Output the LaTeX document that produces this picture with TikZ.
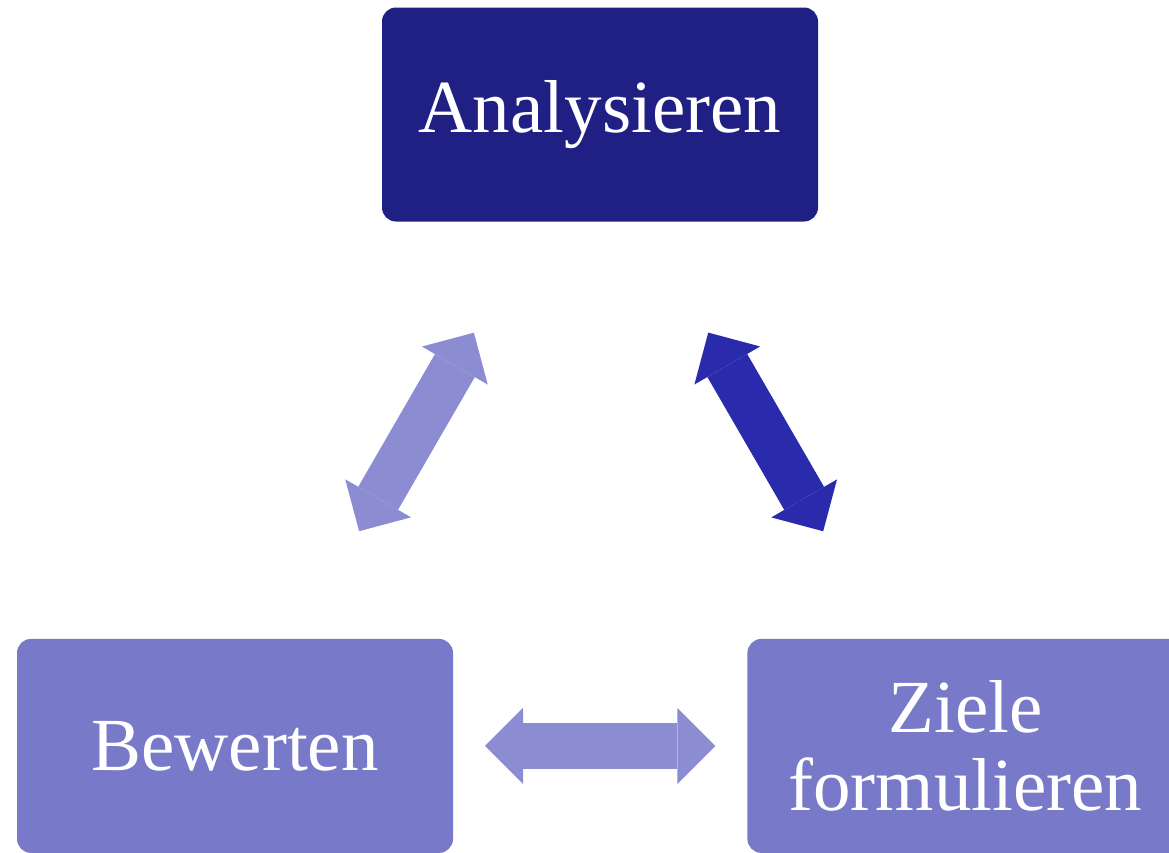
\documentclass[tikz,border=0pt]{standalone}
\usepackage{fontspec}
\setmainfont{Liberation Serif}
\usetikzlibrary{positioning, arrows.meta}
\tikzset{%
  stage/.style={
    rectangle,
    rounded corners=14pt,
    minimum width=436pt,
    minimum height=214pt,
    text=white,
    align=center,
    font=\fontsize{75}{78}\selectfont
  },
  cycle/.style={
    line width=46pt,
    {Triangle[width=76pt,length=38pt,line width=0pt]}-{Triangle[width=76pt,length=38pt,line width=0pt]}
  }
}
\definecolor{navyblock}{RGB}{31,31,132}
\definecolor{lavblock}{RGB}{120,121,201}
\definecolor{lavarrow}{RGB}{139,140,209}
\definecolor{royalarrow}{RGB}{42,42,173}

\begin{document}
\begin{tikzpicture}
		\useasboundingbox (0pt,0pt) rectangle (1169pt,-852pt);
		% stages
		\node[stage, fill=navyblock] (ana) at (600pt,-114.5pt) {Analysieren};
		\node[stage, fill=lavblock, xshift=-365pt, below=417pt of ana] (bew) {Bewerten};
		\node[stage, fill=lavblock, right=294pt of bew] (ziel) {Ziele\\formulieren};
		\coordinate (anr) at ([xshift=-18pt]ana.center);
		\coordinate (zir) at ([xshift=-18pt]ziel.center);
		% connections
		\draw[cycle, lavarrow, shorten <=252pt, shorten >=248pt] (ana.center) -- (bew.center);
		\draw[cycle, royalarrow, shorten <=252pt, shorten >=248pt] (anr) -- (zir);
		\draw[cycle, lavarrow, shorten <=250pt, shorten >=250pt] (bew.center) -- (ziel.center);
	\end{tikzpicture}
\end{document}
